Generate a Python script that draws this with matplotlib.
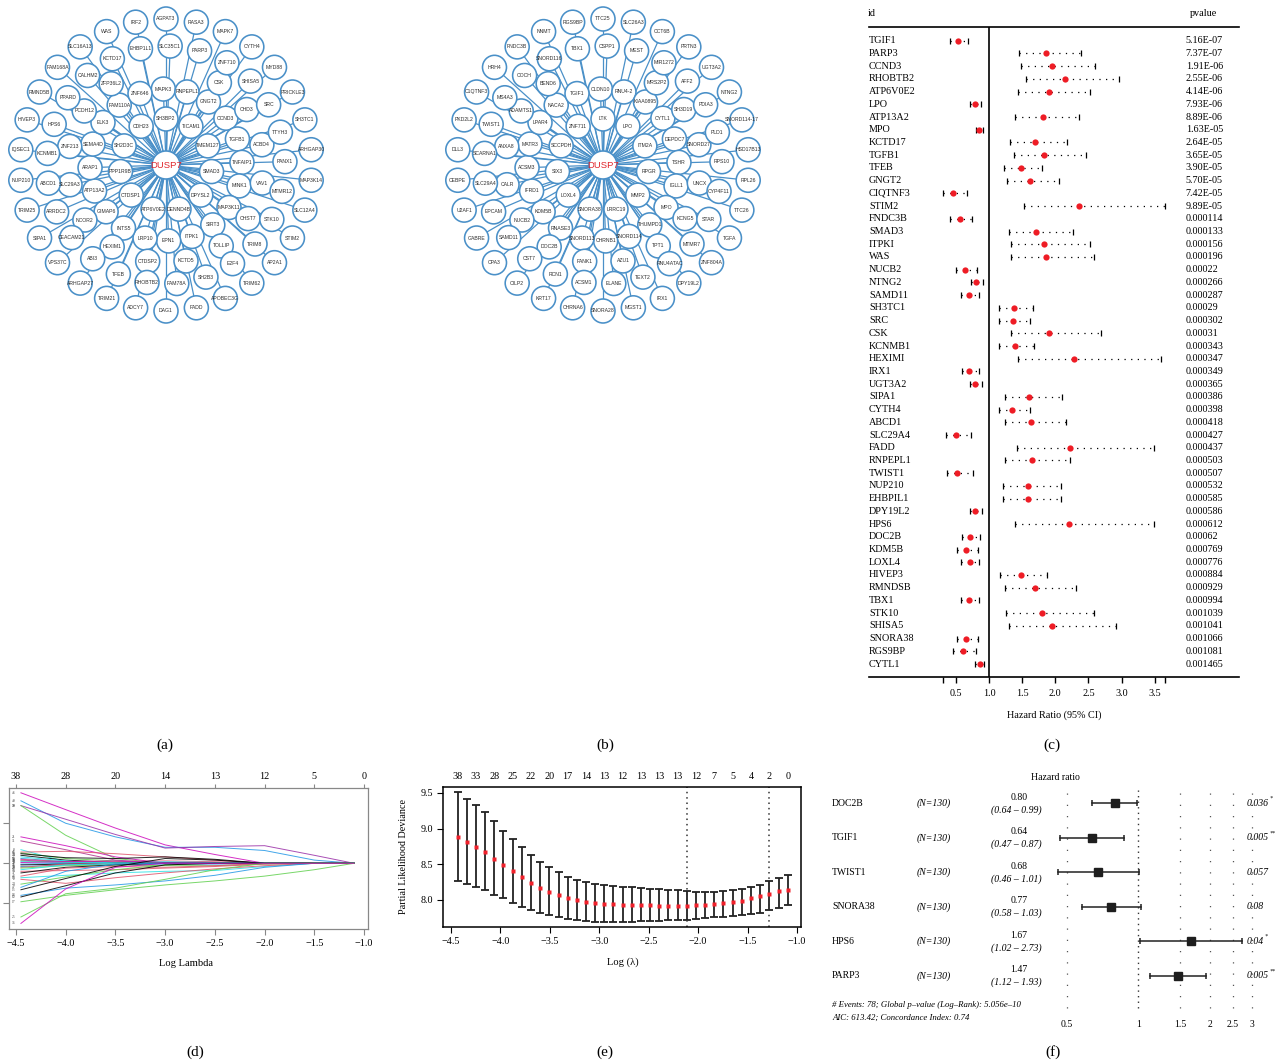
import numpy as np
import matplotlib
matplotlib.use('Agg')
import matplotlib.pyplot as plt
from matplotlib.patches import Circle
import matplotlib.transforms as mtransforms

W, H = 1285, 1064
plt.rcParams['font.family'] = ['Liberation Serif', 'DejaVu Serif']
plt.rcParams['axes.unicode_minus'] = True

# ------------------------------------------------------------------ data
hub_gene = 'DUSP7'
net_a_rings = [
    ['SH3BP2', 'TICAM1', 'TMEM127', 'SMAD3', 'DPYSL2', 'DENND4B', 'ATP6V0E2', 'CTDSP1', 'PPP1R9B', 'SH2D3C', 'CDH23'],
    ['MAPK3', 'RNPEPL1', 'GNGT2', 'CCND3', 'TGFB1', 'TNFAIP1', 'MINK1', 'MAP3K11', 'SIRT3', 'ITPK1', 'EPN1', 'LRP10',
     'INTS5', 'GIMAP6', 'ATP13A2', 'ARAP1', 'SEMA4D', 'ELK3', 'FAM110A', 'ZNF646'],
    ['CSK', 'CHD3', 'ACBD4', 'VAV1', 'CHST7', 'TOLLIP', 'KCTD5', 'CTDSP2', 'HEXIM1', 'NCOR2', 'SLC29A3', 'ZNF213',
     'PCDH12', 'ZFP36L2'],
    ['SLC35C1', 'PARP3', 'ZNF710', 'SHISA5', 'SRC', 'TTYH3', 'PANX1', 'MTMR12', 'STK10', 'TRIM8', 'E2F4', 'SH2B3',
     'FAM78A', 'RHOBTB2', 'TFEB', 'ABI3', 'CEACAM21', 'ARRDC2', 'ABCD1', 'KCNMB1', 'HPS6', 'PPARD', 'CALHM2',
     'KCTD17', 'EHBP1L1'],
    ['AGPAT3', 'RASA3', 'MAPK7', 'CYTH4', 'MYD88', 'PRICKLE3', 'SH3TC1', 'ARHGAP30', 'MAP3K14', 'SLC12A4', 'STIM2',
     'AP2A1', 'TRIM62', 'APOBEC3G', 'FADD', 'DAG1', 'ADCY7', 'TRIM21', 'ARHGAP27', 'VPS37C', 'SIPA1', 'TRIM25',
     'NUP210', 'IQSEC1', 'HIVEP3', 'RMND5B', 'FAM168A', 'SLC16A13', 'WAS', 'IRF2'],
]
net_b_rings = [
    ['LTK', 'LPO', 'ITM2A', 'RPGR', 'MMP2', 'LRRC19', 'SNORA38', 'LOXL4', 'SIX3', 'SCCPDH', 'ZNF711'],
    ['CLDN10', 'RNU4-2', 'KIAA0895', 'CYTL1', 'DEPDC7', 'TSHR', 'IGLL1', 'MPO', 'THUMPD1', 'SNORD114', 'CHRNB1',
     'SNORD113', 'RNASE3', 'KDM5B', 'IFRD1', 'ACSM3', 'MATR3', 'LPAR4', 'NACA2', 'TGIF1'],
    ['MRS2P2', 'SH3D19', 'SNORD27', 'UNCX', 'KCNG5', 'TPT1', 'AZU1', 'FANK1', 'DOC2B', 'NUCB2', 'CALR', 'ANXA8',
     'ADAMTS1', 'BEND6'],
    ['CSPP1', 'MEST', 'MIR1272', 'AFF2', 'PDIA3', 'PLD1', 'RPS10', 'CYP4F11', 'STAR', 'MTMR7', 'RNU4ATAC', 'TEXT2',
     'ELANE', 'ACSM1', 'RCN1', 'CST7', 'SAMD11', 'EPCAM', 'SLC29A4', 'SCARNA1', 'TWIST1', 'MS4A3', 'COCH',
     'SNORD116', 'TBX1'],
    ['TTC25', 'SLC26A3', 'CCT6B', 'PRTN3', 'UGT3A2', 'NTNG2', 'SNORD114-17', 'HSD17B13', 'RPL26', 'TTC26', 'TGFA',
     'ZNF804A', 'DPY19L2', 'IRX1', 'MGST1', 'SNORA28', 'CHRNA6', 'KRT17', 'CILP2', 'CPA3', 'GABRE', 'U2AF1',
     'CEBPE', 'DLL3', 'PKD2L2', 'C1QTNF3', 'HRH4', 'FNDC3B', 'NNMT', 'RGS9BP'],
]

c_genes = ['TGIF1', 'PARP3', 'CCND3', 'RHOBTB2', 'ATP6V0E2', 'LPO', 'ATP13A2', 'MPO', 'KCTD17', 'TGFB1', 'TFEB',
           'GNGT2', 'CIQTNF3', 'STIM2', 'FNDC3B', 'SMAD3', 'ITPKI', 'WAS', 'NUCB2', 'NTNG2', 'SAMD11', 'SH3TC1',
           'SRC', 'CSK', 'KCNMB1', 'HEXIMI', 'IRX1', 'UGT3A2', 'SIPA1', 'CYTH4', 'ABCD1', 'SLC29A4', 'FADD',
           'RNPEPL1', 'TWIST1', 'NUP210', 'EHBPIL1', 'DPY19L2', 'HPS6', 'DOC2B', 'KDM5B', 'LOXL4', 'HIVEP3',
           'RMNDSB', 'TBX1', 'STK10', 'SHISA5', 'SNORA38', 'RGS9BP', 'CYTL1']
c_hr = [0.528, 1.859, 1.955, 2.146, 1.899, 0.789, 1.809, 0.854, 1.688, 1.834, 1.487, 1.623, 0.457, 2.362, 0.558,
        1.714, 1.834, 1.859, 0.633, 0.809, 0.693, 1.377, 1.367, 1.899, 1.387, 2.281, 0.704, 0.794, 1.608, 1.352,
        1.628, 0.497, 2.226, 1.653, 0.518, 1.588, 1.588, 0.794, 2.206, 0.714, 0.648, 0.709, 1.477, 1.688, 0.704,
        1.804, 1.950, 0.653, 0.608, 0.864]
c_lo = [0.412, 1.452, 1.477, 1.553, 1.442, 0.714, 1.392, 0.804, 1.322, 1.372, 1.221, 1.276, 0.312, 1.523, 0.417,
        1.296, 1.332, 1.332, 0.497, 0.724, 0.573, 1.156, 1.146, 1.337, 1.156, 1.432, 0.588, 0.709, 1.241, 1.146,
        1.241, 0.347, 1.417, 1.241, 0.372, 1.216, 1.216, 0.709, 1.397, 0.593, 0.518, 0.578, 1.166, 1.241, 0.578,
        1.256, 1.296, 0.518, 0.457, 0.789]
c_hi = [0.678, 2.382, 2.593, 2.965, 2.518, 0.874, 2.357, 0.915, 2.176, 2.457, 1.804, 2.055, 0.673, 3.658, 0.749,
        2.266, 2.523, 2.588, 0.814, 0.905, 0.849, 1.658, 1.618, 2.688, 1.678, 3.593, 0.849, 0.899, 2.101, 1.618,
        2.161, 0.729, 3.482, 2.216, 0.764, 2.080, 2.080, 0.899, 3.482, 0.859, 0.834, 0.854, 1.874, 2.317, 0.854,
        2.583, 2.920, 0.839, 0.804, 0.930]
c_pval = ['5.16E-07', '7.37E-07', '1.91E-06', '2.55E-06', '4.14E-06', '7.93E-06', '8.89E-06', '1.63E-05',
          '2.64E-05', '3.65E-05', '3.90E-05', '5.70E-05', '7.42E-05', '9.89E-05', '0.000114', '0.000133',
          '0.000156', '0.000196', '0.00022', '0.000266', '0.000287', '0.00029', '0.000302', '0.00031', '0.000343',
          '0.000347', '0.000349', '0.000365', '0.000386', '0.000398', '0.000418', '0.000427', '0.000437',
          '0.000503', '0.000507', '0.000532', '0.000585', '0.000586', '0.000612', '0.00062', '0.000769',
          '0.000776', '0.000884', '0.000929', '0.000994', '0.001039', '0.001041', '0.001066', '0.001081',
          '0.001465']
c_ticks = [0.5, 1.0, 1.5, 2.0, 2.5, 3.0, 3.5]

lasso_loglam = [-4.45, -4.0, -3.5, -3.0, -2.5, -2.0, -1.5, -1.1]
lasso_coefs = [
    [0.88, 0.67, 0.44, 0.23, 0.11, 0.00, 0.00, 0.00],
    [0.78, 0.50, 0.33, 0.20, 0.20, 0.16, 0.04, 0.00],
    [0.72, 0.55, 0.36, 0.19, 0.21, 0.22, 0.10, 0.00],
    [0.72, 0.35, 0.06, 0.00, 0.00, 0.00, 0.00, 0.00],
    [0.33, 0.22, 0.08, 0.00, 0.00, 0.00, 0.00, 0.00],
    [0.28, 0.17, 0.04, 0.00, 0.00, 0.00, 0.00, 0.00],
    [0.17, 0.02, 0.00, 0.00, 0.00, 0.00, 0.00, 0.00],
    [0.14, 0.15, 0.12, 0.08, 0.04, 0.00, 0.00, 0.00],
    [0.13, 0.06, 0.03, 0.00, 0.00, 0.00, 0.00, 0.00],
    [0.12, 0.07, 0.06, 0.08, 0.05, 0.00, 0.00, 0.00],
    [0.10, 0.04, 0.01, 0.00, 0.00, 0.00, 0.00, 0.00],
    [0.08, 0.03, 0.00, 0.00, 0.00, 0.00, 0.00, 0.00],
    [0.06, 0.02, 0.00, 0.00, 0.00, 0.00, 0.00, 0.00],
    [0.05, 0.02, 0.02, 0.03, 0.02, 0.00, 0.00, 0.00],
    [0.04, 0.01, 0.00, 0.00, 0.00, 0.00, 0.00, 0.00],
    [0.03, 0.01, 0.00, 0.00, 0.00, 0.00, 0.00, 0.00],
    [0.02, 0.01, 0.01, 0.02, 0.01, 0.01, 0.00, 0.00],
    [0.01, 0.02, 0.03, 0.01, 0.00, 0.00, 0.00, 0.00],
    [-0.01, 0.00, 0.00, 0.00, 0.00, 0.00, 0.00, 0.00],
    [-0.02, -0.01, 0.00, 0.00, 0.00, 0.00, 0.00, 0.00],
    [-0.04, -0.02, -0.01, -0.01, -0.01, 0.00, 0.00, 0.00],
    [-0.05, -0.01, 0.00, 0.00, 0.00, 0.00, 0.00, 0.00],
    [-0.06, -0.03, -0.02, -0.03, -0.03, -0.01, 0.00, 0.00],
    [-0.08, -0.02, 0.00, 0.00, 0.00, 0.00, 0.00, 0.00],
    [-0.10, -0.09, -0.08, -0.06, -0.04, -0.01, 0.00, 0.00],
    [-0.12, -0.05, -0.02, 0.00, 0.00, 0.00, 0.00, 0.00],
    [-0.16, -0.06, -0.04, -0.05, -0.03, 0.00, 0.00, 0.00],
    [-0.18, -0.15, -0.12, -0.10, -0.09, -0.04, 0.00, 0.00],
    [-0.20, -0.25, -0.18, -0.12, -0.07, -0.03, 0.00, 0.00],
    [-0.26, -0.17, -0.08, -0.02, 0.00, 0.00, 0.00, 0.00],
    [-0.30, -0.10, -0.01, 0.00, 0.00, 0.00, 0.00, 0.00],
    [-0.33, -0.19, -0.04, 0.06, 0.04, 0.00, 0.00, 0.00],
    [-0.40, -0.31, -0.27, -0.22, -0.15, -0.05, 0.00, 0.00],
    [-0.42, -0.28, -0.12, -0.02, 0.00, 0.00, 0.00, 0.00],
    [-0.48, -0.40, -0.33, -0.27, -0.22, -0.16, -0.08, 0.00],
    [-0.67, -0.38, -0.31, -0.20, -0.08, 0.00, 0.00, 0.00],
    [-0.75, -0.32, -0.05, 0.00, 0.00, 0.00, 0.00, 0.00],
]
lasso_var_ids = [46, 49, 30, 39, 21, 31, 8, 41, 12, 3, 44, 27, 19, 6, 33, 40, 11, 22, 1, 45, 35, 9, 28, 14, 5,
                 37, 43, 16, 2, 24, 47, 13, 18, 10, 17, 25, 36]
lasso_top_ticks = [-4.5, -4.0, -3.5, -3.0, -2.5, -2.0, -1.5, -1.0]
lasso_top_df = [38, 28, 20, 14, 13, 12, 5, 0]

cv_loglam = [-4.432, -4.339, -4.247, -4.154, -4.061, -3.969, -3.876, -3.783, -3.690, -3.598, -3.505, -3.412,
             -3.320, -3.227, -3.134, -3.042, -2.949, -2.856, -2.763, -2.671, -2.578, -2.485, -2.393, -2.300,
             -2.207, -2.115, -2.022, -1.929, -1.836, -1.744, -1.651, -1.558, -1.466, -1.373, -1.280, -1.187,
             -1.094]
cv_mean = [8.879, 8.818, 8.748, 8.668, 8.579, 8.486, 8.407, 8.322, 8.238, 8.164, 8.107, 8.061, 8.019, 7.991,
           7.963, 7.949, 7.939, 7.935, 7.930, 7.925, 7.921, 7.921, 7.916, 7.916, 7.916, 7.916, 7.921, 7.925,
           7.935, 7.949, 7.963, 7.981, 8.019, 8.047, 8.084, 8.121, 8.135]
cv_upper = [9.519, 9.420, 9.331, 9.228, 9.102, 8.970, 8.858, 8.741, 8.633, 8.530, 8.455, 8.385, 8.324, 8.281,
            8.249, 8.220, 8.206, 8.192, 8.183, 8.173, 8.164, 8.155, 8.150, 8.141, 8.136, 8.127, 8.113, 8.103,
            8.108, 8.117, 8.131, 8.145, 8.173, 8.211, 8.258, 8.300, 8.347]
cv_lower = [8.258, 8.216, 8.183, 8.141, 8.066, 8.019, 7.953, 7.902, 7.855, 7.808, 7.780, 7.756, 7.728, 7.709,
            7.695, 7.691, 7.686, 7.686, 7.686, 7.691, 7.695, 7.695, 7.700, 7.709, 7.714, 7.719, 7.733, 7.747,
            7.752, 7.761, 7.770, 7.784, 7.803, 7.817, 7.850, 7.883, 7.920]
cv_nonzero = [38, 33, 28, 25, 22, 20, 17, 14, 13, 12, 13, 13, 13, 12, 7, 5, 4, 2, 0]
cv_lambda_min = -2.115
cv_lambda_1se = -1.280

f_genes = ['DOC2B', 'TGIF1', 'TWIST1', 'SNORA38', 'HPS6', 'PARP3']
f_hr = [0.80, 0.64, 0.68, 0.77, 1.67, 1.47]
f_lo = [0.64, 0.47, 0.46, 0.58, 1.02, 1.12]
f_hi = [0.99, 0.87, 1.01, 1.03, 2.73, 1.93]
f_p = ['0.036', '0.005', '0.057', '0.08', '0.04', '0.005']
f_stars = ['*', '**', '', '', '*', '**']
f_n = 130
f_ticks = [0.5, 1, 1.5, 2, 2.5, 3]
f_ticklabels = ['0.5', '1', '1.5', '2', '2.5', '3']
f_note1 = '# Events: 78; Global p\u2013value (Log\u2013Rank): 5.056e\u201310'
f_note2 = 'AIC: 613.42; Concordance Index: 0.74'

# ------------------------------------------------------------------ helpers
fig = plt.figure(figsize=(W / 100, H / 100), dpi=100)


def px_axes(x0, y0, x1, y1):
    return fig.add_axes([x0 / W, 1 - y1 / H, (x1 - x0) / W, (y1 - y0) / H])


def ftext(x, y, s, **kw):
    return fig.text(x / W, 1 - y / H, s, **kw)


NET_BLUE = '#4A90C8'


def draw_network(cx, cy, rings, hub):
    ax = px_axes(cx - 172, cy - 172, cx + 172, cy + 172)
    ax.set_xlim(-172, 172)
    ax.set_ylim(172, -172)
    ax.axis('off')
    radii = [46, 76, 98, 119, 146]
    starts = [0, -2, 33, 2, 0]
    spans = [360, 360, 293, 360, 360]
    nodes = []
    for names, r, a0, span in zip(rings, radii, starts, spans):
        n = len(names)
        step = 360.0 / n if span >= 360 else span / (n - 1)
        for k, name in enumerate(names):
            th = np.deg2rad(a0 + k * step)
            nodes.append((name, r * np.sin(th), -r * np.cos(th)))
    for name, x, y in nodes:
        ax.plot([0, x], [0, y], color=NET_BLUE, lw=0.9, zorder=1, solid_capstyle='butt')
    for name, x, y in nodes:
        ax.add_patch(Circle((x, y), 12.0, fc='white', ec=NET_BLUE, lw=1.15, zorder=2))
        ax.text(x, y, name, fontsize=3.7, ha='center', va='center', zorder=3,
                family=['Liberation Sans', 'DejaVu Sans'], color='#2E2E2E')
    ax.add_patch(Circle((0, 0), 14, fc='white', ec=NET_BLUE, lw=1.15, zorder=4))
    ax.text(0, 0, hub, fontsize=6.8, ha='center', va='center', color='#E0242A', zorder=5,
            family=['Liberation Sans', 'DejaVu Sans'])


# ------------------------------------------------------------------ (a), (b)
draw_network(166, 165, net_a_rings, hub_gene)
draw_network(603, 165, net_b_rings, hub_gene)

# ------------------------------------------------------------------ (c)
axc = px_axes(869, 27, 1239, 677)
n_c = len(c_genes)
axc.set_xlim(1 - 120 / 66.3, 1 + 250 / 66.3)
axc.set_ylim(n_c + 0.02, -1.077)
for s in ['left', 'right']:
    axc.spines[s].set_visible(False)
for s in ['top', 'bottom']:
    axc.spines[s].set_linewidth(1.2)
axc.axvline(1.0, color='black', lw=1.2)
for i in range(n_c):
    axc.plot([c_lo[i], c_hi[i]], [i, i], color='black', lw=0.9, ls=(0, (1, 4.3)))
    axc.plot([c_lo[i], c_hi[i]], [i, i], ls='none', marker='|', ms=4.5, mew=0.9, color='black')
    axc.plot(c_hr[i], i, 'o', color='#EE1C25', ms=4.5, mec='none')
    axc.text(0.0, i, c_genes[i], transform=mtransforms.blended_transform_factory(axc.transAxes, axc.transData),
             ha='left', va='center', fontsize=7.3)
    axc.text(0.856, i, c_pval[i], transform=mtransforms.blended_transform_factory(axc.transAxes, axc.transData),
             ha='left', va='center', fontsize=7.3)
xt = [min(c_lo)] + c_ticks + [max(c_hi)]
axc.set_xticks(xt)
axc.set_xticklabels([''] + ['%.1f' % t for t in c_ticks] + [''])
axc.tick_params(axis='x', direction='out', length=4, width=1.0, labelsize=7.3, pad=5)
axc.set_yticks([])
ftext(868, 14, 'id', ha='left', va='center', fontsize=7.3)
ftext(1203, 14, 'pvalue', ha='center', va='center', fontsize=7.3)
ftext(1054, 715, 'Hazard Ratio (95% CI)', ha='center', va='center', fontsize=7.3)

# ------------------------------------------------------------------ (d)
axd = px_axes(9, 788, 368, 929)
pal = ['#CD0BBC', '#2297E6', '#9A2FA8', '#61D04F', '#CD0BBC', '#B0308F', '#28E2E5', '#DF536B', '#61D04F',
       '#000000', '#000000', '#28E2E5', '#2297E6', '#DF536B', '#CD0BBC', '#61D04F', '#28E2E5', '#CD0BBC',
       '#2297E6', '#000000', '#2297E6', '#DF536B', '#61D04F', '#28E2E5', '#DF536B', '#000000', '#DF536B',
       '#28E2E5', '#DF536B', '#61D04F', '#2297E6', '#000000', '#2297E6', '#000000', '#61D04F', '#61D04F',
       '#CD0BBC']
for k, coefs in enumerate(lasso_coefs):
    axd.plot(lasso_loglam, coefs, color=pal[k % len(pal)], lw=0.7, alpha=0.85)
    axd.text(-4.52, coefs[0], str(lasso_var_ids[k]), fontsize=2.6, ha='center', va='center', color='#444444')
axd.set_xlim(-4.57, -0.96)
axd.set_ylim(-0.82, 0.94)
for s in axd.spines.values():
    s.set_color('#888888')
    s.set_linewidth(0.9)
axd.set_xticks([-4.5, -4.0, -3.5, -3.0, -2.5, -2.0, -1.5, -1.0])
axd.set_xticklabels(['\u22124.5', '\u22124.0', '\u22123.5', '\u22123.0', '\u22122.5', '\u22122.0', '\u22121.5',
                     '\u22121.0'])
axd.set_yticks([-0.5, 0.0, 0.5])
axd.set_yticklabels([])
axd.tick_params(axis='both', colors='#888888', labelcolor='black', labelsize=7.3, length=4, width=0.8)
axd.tick_params(axis='x', pad=3)
axd_top = axd.secondary_xaxis('top')
axd_top.set_xticks(lasso_top_ticks)
axd_top.set_xticklabels([str(v) for v in lasso_top_df])
axd_top.tick_params(colors='#888888', labelcolor='black', labelsize=7.3, length=3, width=0.8, pad=2)
axd_top.spines['top'].set_visible(False)
ftext(186, 963, 'Log Lambda', ha='center', va='center', fontsize=7.6)

# ------------------------------------------------------------------ (e)
axe = px_axes(443, 787, 801, 927)
axe.errorbar(cv_loglam, cv_mean,
             yerr=[np.array(cv_mean) - np.array(cv_lower), np.array(cv_upper) - np.array(cv_mean)],
             fmt='none', ecolor='#222222', elinewidth=1.3, capsize=2.6, capthick=1.3)
axe.plot(cv_loglam, cv_mean, 's', color='#F0202A', ms=2.4, mec='none', zorder=5)
axe.axvline(cv_lambda_min, color='#333333', lw=1.1, ls=(0, (1, 2.5)))
axe.axvline(cv_lambda_1se, color='#333333', lw=1.1, ls=(0, (1, 2.5)))
axe.set_xlim(-4.58, -0.96)
axe.set_ylim(7.617, 9.584)
for s in axe.spines.values():
    s.set_linewidth(1.1)
axe.set_xticks([-4.5, -4.0, -3.5, -3.0, -2.5, -2.0, -1.5, -1.0])
axe.set_xticklabels(['\u22124.5', '\u22124.0', '\u22123.5', '\u22123.0', '\u22122.5', '\u22122.0', '\u22121.5',
                     '\u22121.0'])
axe.set_yticks([8.0, 8.5, 9.0, 9.5])
axe.set_yticklabels(['8.0', '8.5', '9.0', '9.5'])
axe.tick_params(labelsize=7.3, length=4, width=0.8, pad=3)
axe_top = axe.secondary_xaxis('top')
axe_top.set_xticks(cv_loglam[::2])
axe_top.set_xticklabels([str(v) for v in cv_nonzero])
axe_top.tick_params(labelsize=7.3, length=0, pad=4)
axe_top.spines['top'].set_visible(False)
ftext(623, 962, 'Log (\u03bb)', ha='center', va='center', fontsize=7.6)
ftext(404, 857, 'Partial Likelihood Deviance', ha='center', va='center', fontsize=7.3, rotation=90)

# ------------------------------------------------------------------ (f)
axf = px_axes(1040, 785, 1265, 1012)
axf.set_xscale('log')
axf.set_xlim(0.386, 3.41)
axf.set_ylim(6.05, -0.53)
for s in axf.spines.values():
    s.set_visible(False)
for t in f_ticks:
    if t == 1:
        axf.axvline(t, ymin=0.018, ymax=0.978, color='#333333', lw=1.0, ls=(0, (1, 3)))
    else:
        axf.axvline(t, ymin=0.018, ymax=0.978, color='#555555', lw=0.9, ls=(0, (1, 8)))
for i in range(len(f_genes)):
    axf.plot([f_lo[i], f_hi[i]], [i, i], color='#222222', lw=1.1)
    axf.plot([f_lo[i], f_hi[i]], [i, i], ls='none', marker='|', ms=4, mew=1.1, color='#222222')
    axf.plot(f_hr[i], i, 's', color='#1E1E1E', ms=6.3)
    yrow = 803.3 + 34.5 * i
    ftext(832, yrow, f_genes[i], ha='left', va='center', fontsize=7.0)
    ftext(917, yrow, '(N=%d)' % f_n, ha='left', va='center', fontsize=7.0, style='italic')
    ftext(1019, yrow - 6, '%.2f' % f_hr[i], ha='center', va='center', fontsize=7.0)
    ftext(1016, yrow + 6.5, '(%.2f \u2013 %.2f)' % (f_lo[i], f_hi[i]), ha='center', va='center', fontsize=7.0,
          style='italic')
    tp = ftext(1247, yrow, f_p[i], ha='left', va='center', fontsize=7.0, style='italic')
    if f_stars[i]:
        axf.annotate(f_stars[i], xy=(1.0, 0.75), xycoords=tp, ha='left', va='bottom', fontsize=4.2,
                     style='italic', annotation_clip=False)
axf.set_xticks(f_ticks)
axf.set_xticklabels(f_ticklabels)
axf.xaxis.set_minor_locator(matplotlib.ticker.NullLocator())
axf.tick_params(axis='x', length=0, labelsize=7.0, pad=6)
axf.set_yticks([])
ftext(1055, 777, 'Hazard ratio', ha='center', va='center', fontsize=7.0)
ftext(832, 1005, f_note1, ha='left', va='center', fontsize=6.3, style='italic')
ftext(832, 1017.5, f_note2, ha='left', va='center', fontsize=6.3, style='italic')

# ------------------------------------------------------------------ panel labels
for lab, x, y in [('(a)', 165, 745), ('(b)', 605, 745), ('(c)', 1052, 745),
                  ('(d)', 195, 1052), ('(e)', 605, 1052), ('(f)', 1053, 1052)]:
    ftext(x, y, lab, ha='center', va='center', fontsize=11)

fig.savefig('out.png', dpi=100)
